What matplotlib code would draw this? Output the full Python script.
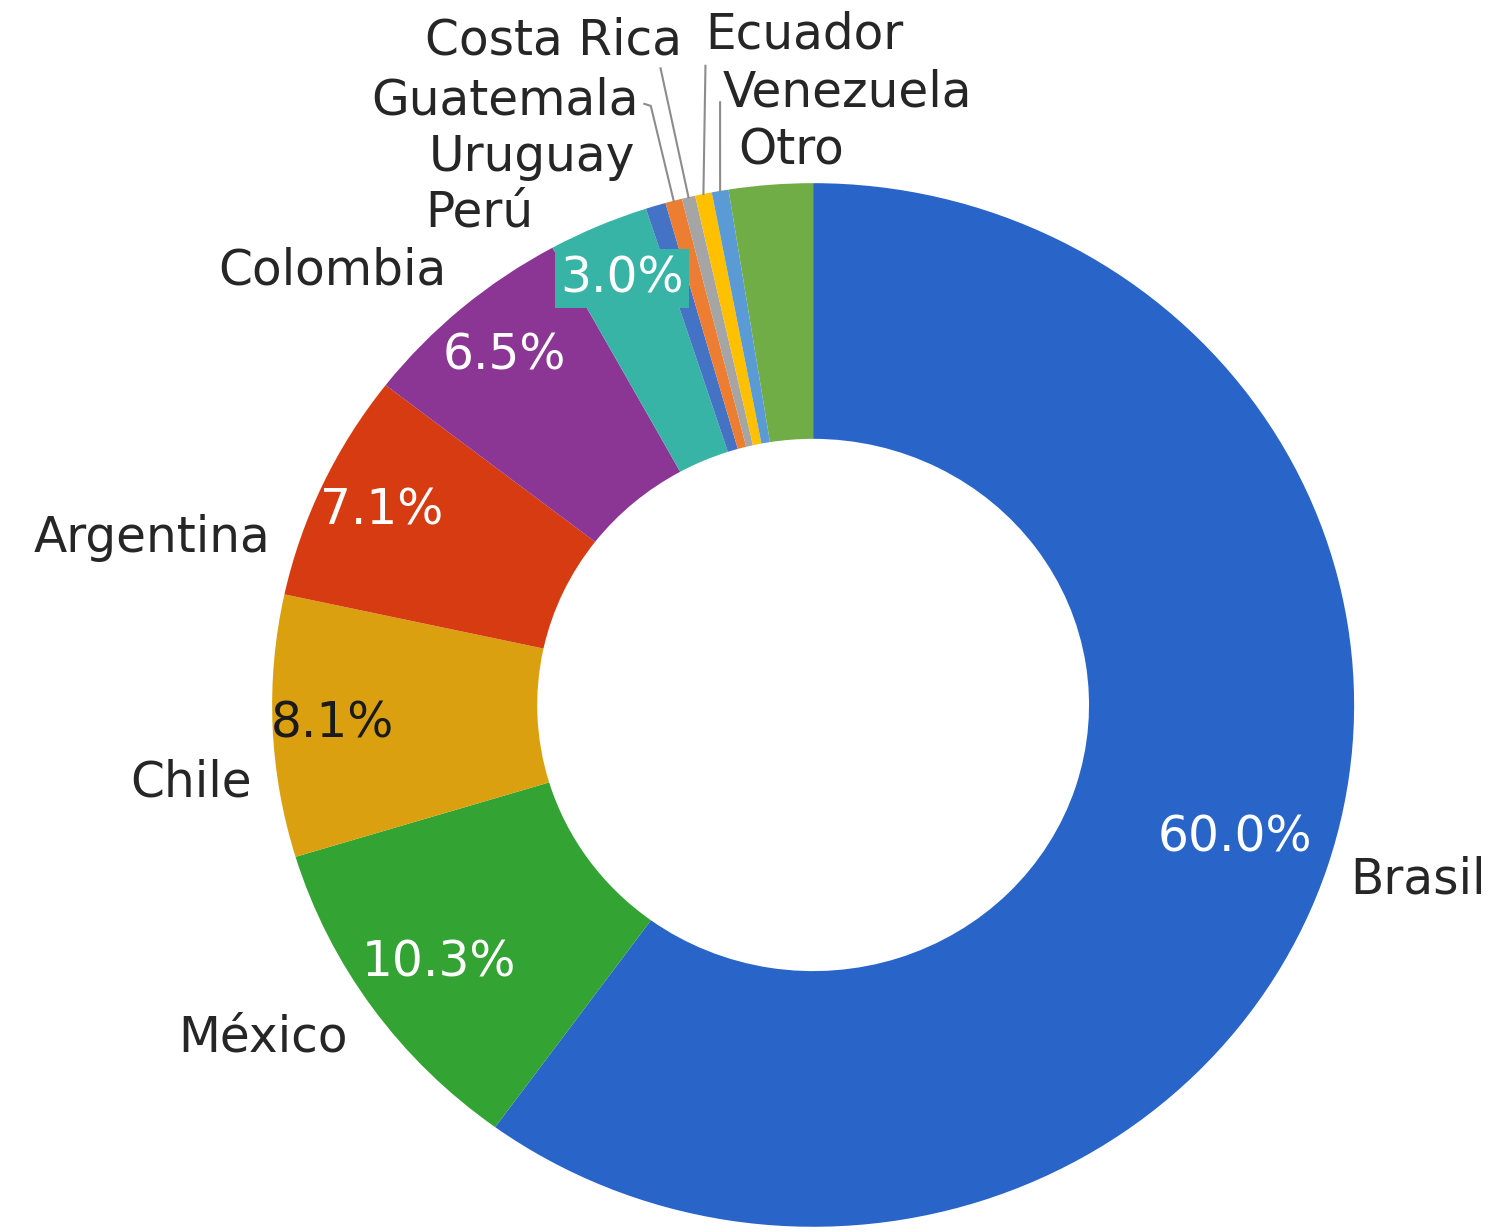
import matplotlib.pyplot as plt
import numpy as np

paises = ['Brasil', 'México', 'Chile', 'Argentina', 'Colombia', 'Perú',
          'Uruguay', 'Guatemala', 'Costa Rica', 'Ecuador', 'Venezuela', 'Otro']
porcentajes = [60.0, 10.3, 8.1, 7.1, 6.5, 3.0, 0.6, 0.5, 0.4, 0.5, 0.5, 2.5]
colores = ['#2964C9', '#33A333', '#DBA00F', '#D63B12', '#8B3595', '#37B4A6',
           '#4472C4', '#ED7D31', '#A5A5A5', '#FFC000', '#5B9BD5', '#70AD47']

# which slices show their percentage, and in which colour
mostrar_pct = [True, True, True, True, True, True] + [False] * 6
color_pct = ['white', 'white', '#1a1a1a', 'white', 'white', 'white']
radio_pct = [0.82, 0.85, 0.89, 0.88, 0.88, 0.89]

# outer label positions (data units) and alignment
pos_etiqueta = [(0.993, -0.335, 'left'), (-0.860, -0.638, 'right'),
                (-1.037, -0.148, 'right'), (-1.004, 0.320, 'right'),
                (-0.677, 0.833, 'right'), (-0.518, 0.944, 'right'),
                (-0.329, 1.050, 'right'), (-0.323, 1.159, 'right'),
                (-0.242, 1.274, 'right'), (-0.200, 1.284, 'left'),
                (-0.168, 1.174, 'left'), (-0.139, 1.063, 'left')]
# leader line start points for the tiny slices
lineas = {'Guatemala': [(-0.312, 1.152), (-0.300, 1.148)],
          'Costa Rica': [(-0.282, 1.22)],
          'Ecuador': [(-0.199, 1.225)],
          'Venezuela': [(-0.172, 1.155)]}

fig = plt.figure(figsize=(14.91, 12.32), dpi=100)
ax = fig.add_axes([0, 0, 1, 1])

wedges, _ = ax.pie(porcentajes, colors=colores, startangle=90, counterclock=False,
                   radius=1.0, wedgeprops=dict(width=0.49, edgecolor='none'))
ax.set_aspect('auto')
ax.set_xlim(-1.503, 1.253)
ax.set_ylim(-1.010, 1.351)
ax.axis('off')

fuente = 'DejaVu Sans'
for i, w in enumerate(wedges):
    ang = np.deg2rad((w.theta1 + w.theta2) / 2)
    if mostrar_pct[i]:
        r = radio_pct[i]
        kw = {}
        if paises[i] == 'Perú':
            kw['bbox'] = dict(facecolor=colores[i], edgecolor='none', pad=4)
        ax.text(r * np.cos(ang), r * np.sin(ang), f'{porcentajes[i]:.1f}%',
                ha='center', va='center', fontsize=35, color=color_pct[i],
                family=fuente, **kw)
    x, y, ha = pos_etiqueta[i]
    ax.text(x, y, paises[i], ha=ha, va='center', fontsize=35, color='#262626',
            family=fuente)
    if paises[i] in lineas:
        pts = lineas[paises[i]] + [(1.0 * np.cos(ang), 1.0 * np.sin(ang))]
        xs, ys = zip(*pts)
        ax.plot(xs, ys, color='#8c8c8c', lw=1.5)

fig.savefig('out.png', dpi=100)
